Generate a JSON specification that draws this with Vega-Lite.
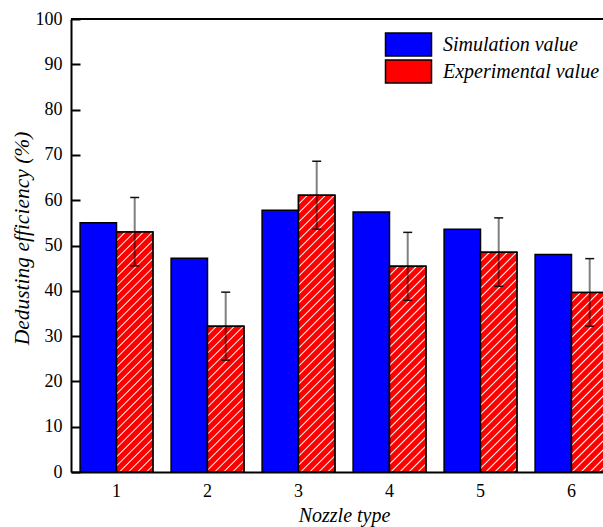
{
  "$schema": "https://vega.github.io/schema/vega-lite/v6.json",
  "autosize": {"type": "none"},
  "padding": {"left": 71, "top": 19, "right": 0, "bottom": 55},
  "width": 532,
  "height": 453,
  "background": "white",
  "config": {
    "view": {"stroke": null},
    "axis": {
      "domainColor": "black", "domainWidth": 2, "tickColor": "black", "tickWidth": 2,
      "labelFont": "Liberation Serif, Times New Roman, Times, DejaVu Serif, serif", "labelFontSize": 18, "labelColor": "black",
      "titleFont": "Liberation Serif, Times New Roman, Times, DejaVu Serif, serif", "titleFontStyle": "italic", "titleFontWeight": "normal", "titleColor": "black",
      "grid": false
    }
  },
  "data": {
    "values": [
      {"nozzle": 1, "series": "Simulation value", "value": 55.0},
      {"nozzle": 1, "series": "Experimental value", "value": 53.0, "lo": 45.5, "hi": 60.6},
      {"nozzle": 2, "series": "Simulation value", "value": 47.2},
      {"nozzle": 2, "series": "Experimental value", "value": 32.2, "lo": 24.7, "hi": 39.7},
      {"nozzle": 3, "series": "Simulation value", "value": 57.8},
      {"nozzle": 3, "series": "Experimental value", "value": 61.1, "lo": 53.6, "hi": 68.6},
      {"nozzle": 4, "series": "Simulation value", "value": 57.4},
      {"nozzle": 4, "series": "Experimental value", "value": 45.4, "lo": 37.9, "hi": 52.9},
      {"nozzle": 5, "series": "Simulation value", "value": 53.6},
      {"nozzle": 5, "series": "Experimental value", "value": 48.5, "lo": 41.0, "hi": 56.1},
      {"nozzle": 6, "series": "Simulation value", "value": 48.0},
      {"nozzle": 6, "series": "Experimental value", "value": 39.6, "lo": 32.2, "hi": 47.1}
    ]
  },
  "encoding": {
    "x": {
      "field": "nozzle", "type": "ordinal",
      "scale": {"range": [0, 546], "paddingInner": 0.2, "paddingOuter": 0.1},
      "axis": {"title": "Nozzle type", "labelAngle": 0, "ticks": false, "labelPadding": 10, "titleFontSize": 20, "titlePadding": 5}
    },
    "xOffset": {
      "field": "series", "type": "nominal",
      "scale": {"domain": ["Simulation value", "Experimental value"], "paddingInner": 0, "paddingOuter": 0}
    }
  },
  "layer": [
    {
      "mark": {"type": "bar", "stroke": "black", "strokeWidth": 1.5},
      "encoding": {
        "y": {
          "field": "value", "type": "quantitative",
          "scale": {"domain": [0, 100], "nice": false},
          "axis": {"title": "Dedusting efficiency (%)", "values": [0, 10, 20, 30, 40, 50, 60, 70, 80, 90, 100], "tickSize": -9, "labelPadding": 18, "titleFontSize": 21.5, "titlePadding": 2, "titleY": 219}
        },
        "color": {
          "field": "series", "type": "nominal",
          "scale": {"domain": ["Simulation value", "Experimental value"], "range": ["#0000ff", "#ff0000"]},
          "legend": {
            "orient": "none", "legendX": 325, "legendY": 13, "title": null, "padding": 0,
            "labelFont": "Liberation Serif, Times New Roman, Times, DejaVu Serif, serif", "labelFontStyle": "italic", "labelFontSize": 20, "labelColor": "black",
            "symbolType": "M-2,-1H2V1H-2Z", "symbolSize": 529, "labelOffset": 22, "rowPadding": -3,
            "symbolStrokeColor": "black", "symbolStrokeWidth": 1.5, "symbolOpacity": 1
          }
        }
      }
    },
    {
      "transform": [{"filter": "datum.series == 'Experimental value'"}],
      "mark": {
        "type": "bar", "stroke": "black", "strokeWidth": 1.5,
        "fill": {"expr": "{gradient:'linear',x1:0,y1:0,x2:360*(bandwidth('x')/2)/(pow(bandwidth('x')/2,2)+pow(scale('y',0)-scale('y',datum.value),2)),y2:360*(scale('y',0)-scale('y',datum.value))/(pow(bandwidth('x')/2,2)+pow(scale('y',0)-scale('y',datum.value),2)),stops:[{offset:0,color:'#fff'},{offset:0.004,color:'#f00'},{offset:0.021,color:'#f00'},{offset:0.025,color:'#fff'},{offset:0.029,color:'#f00'},{offset:0.046,color:'#f00'},{offset:0.05,color:'#fff'},{offset:0.054,color:'#f00'},{offset:0.071,color:'#f00'},{offset:0.075,color:'#fff'},{offset:0.079,color:'#f00'},{offset:0.096,color:'#f00'},{offset:0.1,color:'#fff'},{offset:0.104,color:'#f00'},{offset:0.121,color:'#f00'},{offset:0.125,color:'#fff'},{offset:0.129,color:'#f00'},{offset:0.146,color:'#f00'},{offset:0.15,color:'#fff'},{offset:0.154,color:'#f00'},{offset:0.171,color:'#f00'},{offset:0.175,color:'#fff'},{offset:0.179,color:'#f00'},{offset:0.196,color:'#f00'},{offset:0.2,color:'#fff'},{offset:0.204,color:'#f00'},{offset:0.221,color:'#f00'},{offset:0.225,color:'#fff'},{offset:0.229,color:'#f00'},{offset:0.246,color:'#f00'},{offset:0.25,color:'#fff'},{offset:0.254,color:'#f00'},{offset:0.271,color:'#f00'},{offset:0.275,color:'#fff'},{offset:0.279,color:'#f00'},{offset:0.296,color:'#f00'},{offset:0.3,color:'#fff'},{offset:0.304,color:'#f00'},{offset:0.321,color:'#f00'},{offset:0.325,color:'#fff'},{offset:0.329,color:'#f00'},{offset:0.346,color:'#f00'},{offset:0.35,color:'#fff'},{offset:0.354,color:'#f00'},{offset:0.371,color:'#f00'},{offset:0.375,color:'#fff'},{offset:0.379,color:'#f00'},{offset:0.396,color:'#f00'},{offset:0.4,color:'#fff'},{offset:0.404,color:'#f00'},{offset:0.421,color:'#f00'},{offset:0.425,color:'#fff'},{offset:0.429,color:'#f00'},{offset:0.446,color:'#f00'},{offset:0.45,color:'#fff'},{offset:0.454,color:'#f00'},{offset:0.471,color:'#f00'},{offset:0.475,color:'#fff'},{offset:0.479,color:'#f00'},{offset:0.496,color:'#f00'},{offset:0.5,color:'#fff'},{offset:0.504,color:'#f00'},{offset:0.521,color:'#f00'},{offset:0.525,color:'#fff'},{offset:0.529,color:'#f00'},{offset:0.546,color:'#f00'},{offset:0.55,color:'#fff'},{offset:0.554,color:'#f00'},{offset:0.571,color:'#f00'},{offset:0.575,color:'#fff'},{offset:0.579,color:'#f00'},{offset:0.596,color:'#f00'},{offset:0.6,color:'#fff'},{offset:0.604,color:'#f00'},{offset:0.621,color:'#f00'},{offset:0.625,color:'#fff'},{offset:0.629,color:'#f00'},{offset:0.646,color:'#f00'},{offset:0.65,color:'#fff'},{offset:0.654,color:'#f00'},{offset:0.671,color:'#f00'},{offset:0.675,color:'#fff'},{offset:0.679,color:'#f00'},{offset:0.696,color:'#f00'},{offset:0.7,color:'#fff'},{offset:0.704,color:'#f00'},{offset:0.721,color:'#f00'},{offset:0.725,color:'#fff'},{offset:0.729,color:'#f00'},{offset:0.746,color:'#f00'},{offset:0.75,color:'#fff'},{offset:0.754,color:'#f00'},{offset:0.771,color:'#f00'},{offset:0.775,color:'#fff'},{offset:0.779,color:'#f00'},{offset:0.796,color:'#f00'},{offset:0.8,color:'#fff'},{offset:0.804,color:'#f00'},{offset:0.821,color:'#f00'},{offset:0.825,color:'#fff'},{offset:0.829,color:'#f00'},{offset:0.846,color:'#f00'},{offset:0.85,color:'#fff'},{offset:0.854,color:'#f00'},{offset:0.871,color:'#f00'},{offset:0.875,color:'#fff'},{offset:0.879,color:'#f00'},{offset:0.896,color:'#f00'},{offset:0.9,color:'#fff'},{offset:0.904,color:'#f00'},{offset:0.921,color:'#f00'},{offset:0.925,color:'#fff'},{offset:0.929,color:'#f00'},{offset:0.946,color:'#f00'},{offset:0.95,color:'#fff'},{offset:0.954,color:'#f00'},{offset:0.971,color:'#f00'},{offset:0.975,color:'#fff'},{offset:0.979,color:'#f00'},{offset:0.996,color:'#f00'},{offset:1,color:'#fff'}]}"}
      },
      "encoding": {
        "y": {"field": "value", "type": "quantitative"}
      }
    },
    {
      "transform": [{"filter": "datum.series == 'Experimental value'"}],
      "mark": {"type": "rule", "color": "black", "opacity": 0.5, "strokeWidth": 2},
      "encoding": {
        "y": {"field": "lo", "type": "quantitative"},
        "y2": {"field": "hi"}
      }
    },
    {
      "transform": [{"filter": "datum.series == 'Experimental value'"}],
      "mark": {"type": "tick", "color": "#111111", "size": 9, "thickness": 1.5, "opacity": 1},
      "encoding": {
        "y": {"field": "lo", "type": "quantitative"}
      }
    },
    {
      "transform": [{"filter": "datum.series == 'Experimental value'"}],
      "mark": {"type": "tick", "color": "#111111", "size": 9, "thickness": 1.5, "opacity": 1},
      "encoding": {
        "y": {"field": "hi", "type": "quantitative"}
      }
    },
    {
      "mark": {"type": "rule", "color": "black", "strokeWidth": 1.5},
      "encoding": {
        "y": {"datum": 100, "type": "quantitative"},
        "x": null,
        "xOffset": null
      }
    }
  ]
}
